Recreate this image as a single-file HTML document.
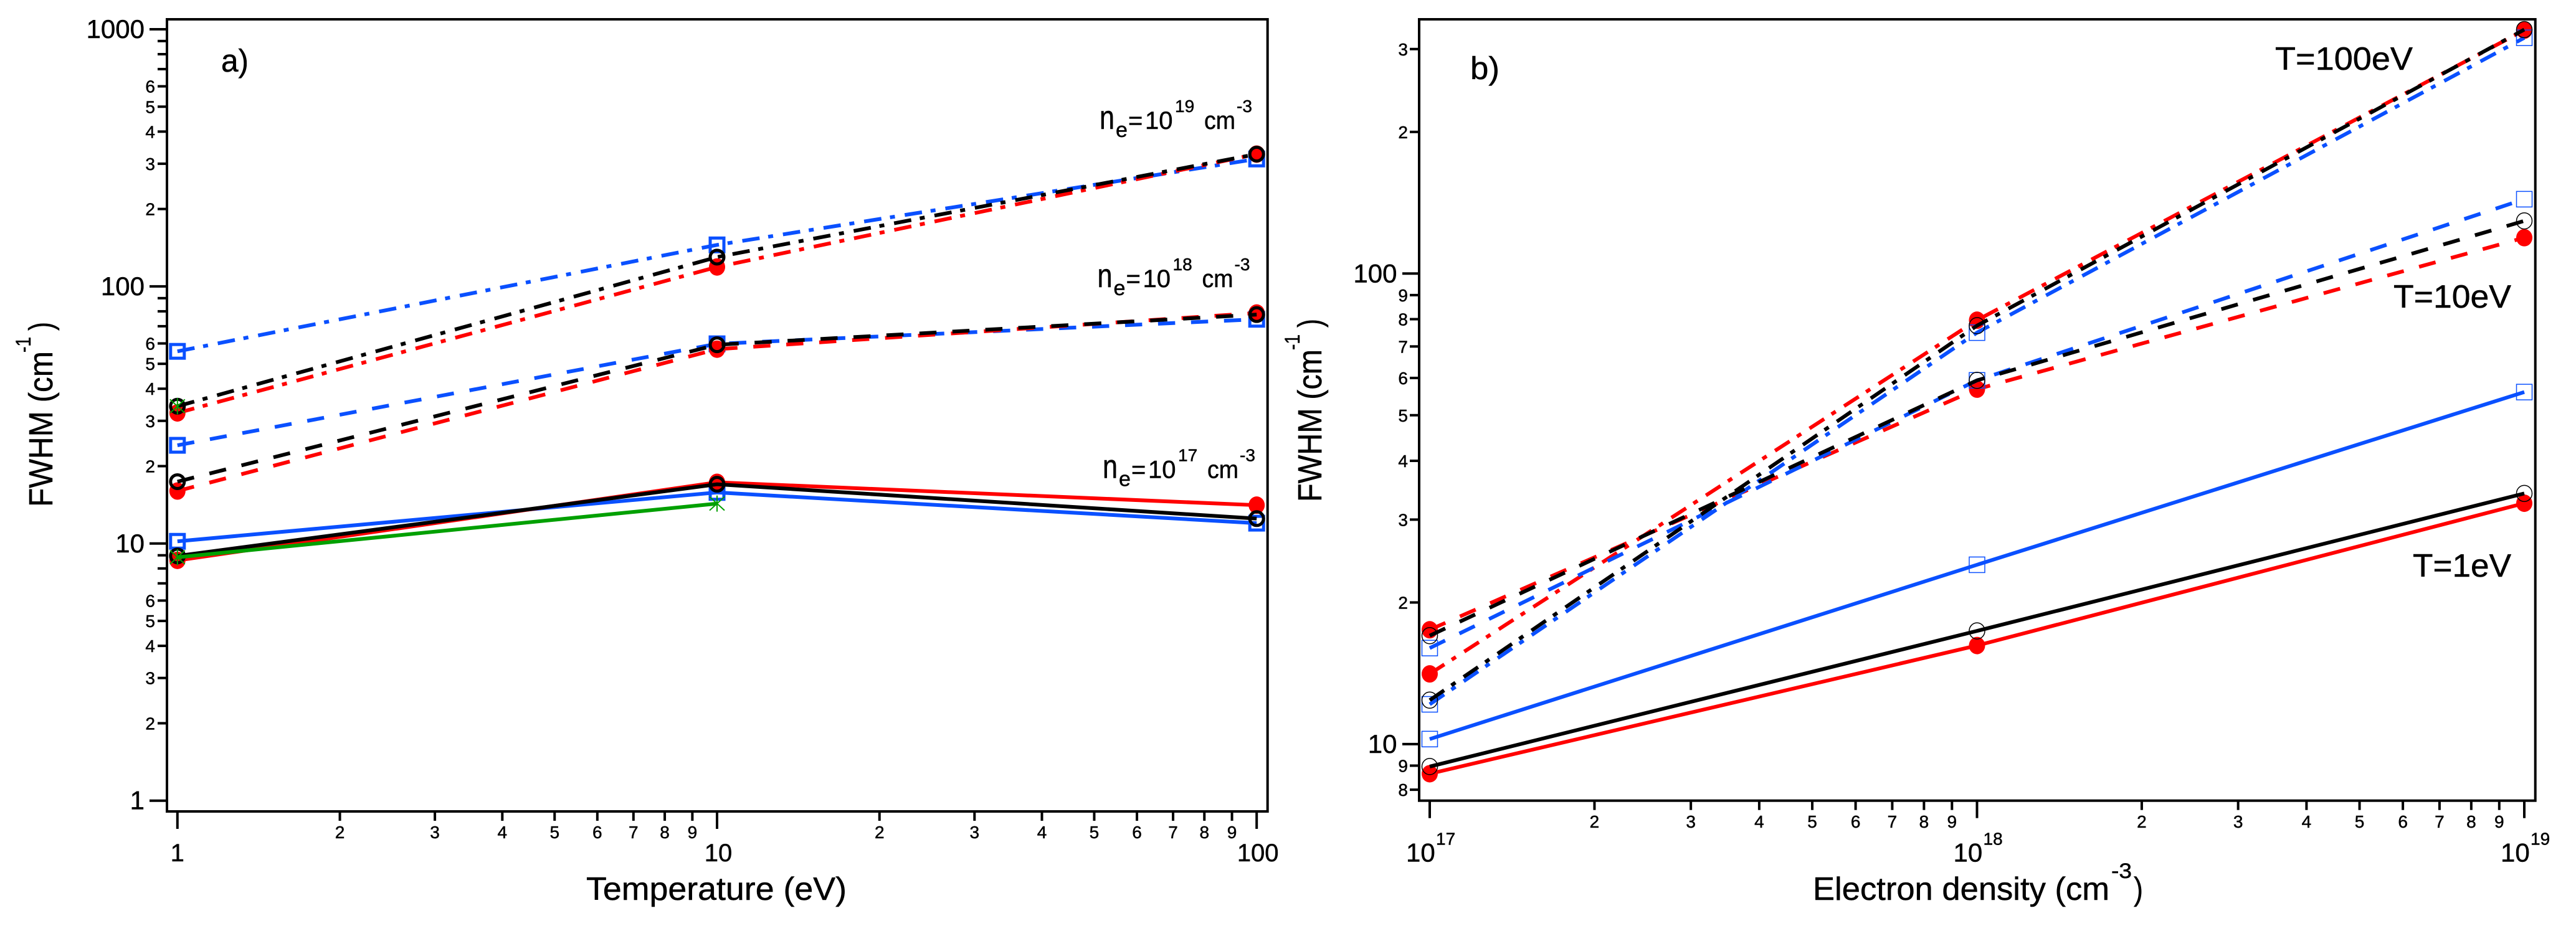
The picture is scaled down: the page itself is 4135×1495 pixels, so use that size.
<!DOCTYPE html>
<html lang="en">
<head>
<meta charset="utf-8">
<title>FWHM versus temperature and electron density</title>
<style>
html,body{margin:0;padding:0;background:#fff;}
svg{display:block;}
text{font-family:"Liberation Sans",sans-serif;fill:#000;stroke:#000;stroke-width:0.5px;}
</style>
</head>
<body>
<svg id="figure" xmlns="http://www.w3.org/2000/svg" width="4135" height="1495" viewBox="0 0 4135 1495">
  <rect x="0" y="0" width="4135" height="1495" fill="#fff"/>

  <g id="panel-a"></g>
  <g id="panel-b"></g>

  <rect x="268" y="31" width="1766.7" height="1272" fill="none" stroke="#000" stroke-width="4"/>
  <rect x="2278" y="31" width="1791.7" height="1254.7" fill="none" stroke="#000" stroke-width="4"/>

  <!-- Panel a text -->
  <text x="355" y="115" font-size="51" textLength="44" lengthAdjust="spacingAndGlyphs">a)</text>
  <text x="941" y="1445" font-size="52" textLength="418" lengthAdjust="spacingAndGlyphs">Temperature (eV)</text>
  <g>
    <text transform="translate(84 814) rotate(-90)" font-size="54" textLength="250" lengthAdjust="spacingAndGlyphs">FWHM (cm</text>
    <text transform="translate(49 566) rotate(-90)" font-size="34" textLength="25" lengthAdjust="spacingAndGlyphs">-1</text>
    <text transform="translate(84 531) rotate(-90)" font-size="54" textLength="14" lengthAdjust="spacingAndGlyphs">)</text>
  </g>

  <g>
    <text x="1765" y="207" font-size="54" textLength="24" lengthAdjust="spacingAndGlyphs">n</text>
    <text x="1791" y="220" font-size="34">e</text>
    <text x="1811" y="207" font-size="40">=</text>
    <text x="1838" y="207" font-size="40">10</text>
    <text x="1886" y="180" font-size="28">19</text>
    <text x="1933" y="207" font-size="40" textLength="50" lengthAdjust="spacingAndGlyphs">cm</text>
    <text x="1985" y="180" font-size="28">-3</text>
  </g>
  <g transform="translate(-3.5 254)">
    <text x="1765" y="207" font-size="54" textLength="24" lengthAdjust="spacingAndGlyphs">n</text>
    <text x="1791" y="220" font-size="34">e</text>
    <text x="1811" y="207" font-size="40">=</text>
    <text x="1838" y="207" font-size="40">10</text>
    <text x="1886" y="180" font-size="28">18</text>
    <text x="1933" y="207" font-size="40" textLength="50" lengthAdjust="spacingAndGlyphs">cm</text>
    <text x="1985" y="180" font-size="28">-3</text>
  </g>
  <g transform="translate(5 560.5)">
    <text x="1765" y="207" font-size="54" textLength="24" lengthAdjust="spacingAndGlyphs">n</text>
    <text x="1791" y="220" font-size="34">e</text>
    <text x="1811" y="207" font-size="40">=</text>
    <text x="1838" y="207" font-size="40">10</text>
    <text x="1886" y="180" font-size="28">17</text>
    <text x="1933" y="207" font-size="40" textLength="50" lengthAdjust="spacingAndGlyphs">cm</text>
    <text x="1985" y="180" font-size="28">-3</text>
  </g>

  <!-- Panel b text -->
  <text x="2360" y="127" font-size="51" textLength="47" lengthAdjust="spacingAndGlyphs">b)</text>
  <g>
    <text x="2910" y="1445" font-size="52" textLength="476" lengthAdjust="spacingAndGlyphs">Electron density (cm</text>
    <text x="3389" y="1410" font-size="34" textLength="33" lengthAdjust="spacingAndGlyphs">-3</text>
    <text x="3425" y="1445" font-size="52" textLength="15" lengthAdjust="spacingAndGlyphs">)</text>
  </g>
  <g>
    <text transform="translate(2121 806) rotate(-90)" font-size="54" textLength="245" lengthAdjust="spacingAndGlyphs">FWHM (cm</text>
    <text transform="translate(2086 562) rotate(-90)" font-size="34" textLength="25" lengthAdjust="spacingAndGlyphs">-1</text>
    <text transform="translate(2121 526) rotate(-90)" font-size="54" textLength="14" lengthAdjust="spacingAndGlyphs">)</text>
  </g>
  <text x="3652" y="112" font-size="52" textLength="221" lengthAdjust="spacingAndGlyphs">T=100eV</text>
  <text x="3842" y="494" font-size="52" textLength="189" lengthAdjust="spacingAndGlyphs">T=10eV</text>
  <text x="3873" y="926" font-size="52" textLength="158" lengthAdjust="spacingAndGlyphs">T=1eV</text>
</svg>

<script>
// ---- Shared tick data ----
const minorDigits = [2, 3, 4, 5, 6, 7, 8, 9];

// ---- Panel a: FWHM vs temperature ----
const tempValues = [1, 10, 100];
const aXMajorTicks = [1, 10, 100];
const aXMajorLabels = ['1', '10', '100'];
const aYMajorTicks = [1, 10, 100, 1000];
const aYMajorLabels = ['1', '10', '100', '1000'];
const aYDecades = [1, 10, 100];
const aYLabelledDigits = [2, 3, 4, 5, 6];

const aBlue19 = [55.9, 145, 313];
const aRed19 = [32.2, 119, 327];
const aBlack19 = [34.2, 130, 327];
const aBlue18 = [24.1, 59.8, 74.5];
const aRed18 = [16.0, 57, 78.8];
const aBlack18 = [17.4, 59.3, 77.7];
const aBlue17 = [10.2, 15.8, 12.0];
const aRed17 = [8.6, 17.3, 14.1];
const aBlack17 = [8.95, 17.0, 12.5];
const aGreenTemps = [1, 10];
const aGreen17 = [8.84, 14.3];
const aGreenExtraTemps = [1];
const aGreenExtra19 = [34.2];

// ---- Panel b: FWHM vs electron density ----
const densityValues = [1e17, 1e18, 1e19];
const bXDecades = [1e17, 1e18];
const bXMajorTicks = [1e17, 1e18, 1e19];
const bXMajorExponents = ['17', '18', '19'];
const bYMajorTicks = [10, 100];
const bYMajorLabels = ['10', '100'];
const bYMinorTicks = [8, 9, 20, 30, 40, 50, 60, 70, 80, 90, 200, 300];
const bYMinorLabels = ['8', '9', '2', '3', '4', '5', '6', '7', '8', '9', '2', '3'];

const bBlue1 = [10.25, 24.05, 56];
const bRed1 = [8.65, 16.2, 32.5];
const bBlack1 = [8.96, 17.4, 34.1];
const bBlue10 = [16.0, 59.3, 143.9];
const bRed10 = [17.5, 56.8, 119.2];
const bBlack10 = [17.0, 59.3, 129.4];
const bBlue100 = [12.15, 74.9, 317];
const bRed100 = [14.1, 79.6, 329];
const bBlack100 = [12.4, 77.5, 330];

// ---- Axis functions ----
function aX(v) { return 284.8 + 866.2 * Math.log10(v); }
function aY(v) { return 1285.7 - 412.9 * Math.log10(v); }
function bX(v) { return 2295 + 878.5 * (Math.log10(v) - 17); }
function bY(v) { return 1194.9 - 755.6 * (Math.log10(v) - 1); }

// ---- Styles ----
const BLUE = '#0a50ff';
const RED = '#ff0000';
const BLACK = '#000000';
const GREEN = '#00a000';
const DASH = '27.5 25.5';
const DASHDOT = '28 14 8 16';
const LINE_WIDTH = 6;

const NS = 'http://www.w3.org/2000/svg';

function make(parent, tag, props) {
  const node = document.createElementNS(NS, tag);
  for (const key in props) node.setAttribute(key, props[key]);
  parent.appendChild(node);
  return node;
}

function tickX(parent, x, y0, len, width, name) {
  const el = make(parent, 'line', { x1: x, x2: x, y1: y0, y2: y0 + len, stroke: '#000', 'stroke-width': width });
  
  
}

function tickY(parent, y, x0, len, width, name) {
  const el = make(parent, 'line', { x1: x0 - len, x2: x0, y1: y, y2: y, stroke: '#000', 'stroke-width': width });
  
  
}

function label(parent, x, y, size, anchor, str, name) {
  const el = make(parent, 'text', { x: x, y: y, 'font-size': size, 'text-anchor': anchor });
  el.textContent = str;
  
  
}

function seriesLine(parent, xs, ys, xFn, yFn, color, dash, width, name) {
  const pts = xs.map(function (x, i) { return xFn(x).toFixed(2) + ',' + yFn(ys[i]).toFixed(2); }).join(' ');
  const el = make(parent, 'polyline', { points: pts, fill: 'none', stroke: color, 'stroke-width': width, 'stroke-linejoin': 'miter' });
  if (dash) el.setAttribute('stroke-dasharray', dash);
  
  
}

function markerCircleOpen(parent, x, y, rx, ry, width, color, name) {
  const el = make(parent, 'ellipse', { cx: x, cy: y, rx: rx, ry: ry, fill: 'none', stroke: color, 'stroke-width': width });
  
  
}

function markerCircleFilled(parent, x, y, rx, ry, color, name) {
  const el = make(parent, 'ellipse', { cx: x, cy: y, rx: rx, ry: ry, fill: color });
  
  
}

function markerSquare(parent, x, y, half, width, color, name) {
  const el = make(parent, 'rect', { x: x - half, y: y - half, width: 2 * half, height: 2 * half, fill: 'none', stroke: color, 'stroke-width': width });
  
  
}

function markerAsterisk(parent, x, y, name) {
  const el = make(parent, 'path', {
    d: 'M' + x + ' ' + (y - 13) + 'V' + (y + 13) +
       'M' + (x - 12) + ' ' + (y - 11) + 'L' + (x + 12) + ' ' + (y + 11) +
       'M' + (x - 12) + ' ' + (y + 11) + 'L' + (x + 12) + ' ' + (y - 11),
    fill: 'none', stroke: GREEN, 'stroke-width': 2
  });
  
  
}

// ---- Panel a drawing ----
const gA = document.getElementById('panel-a');

aXMajorTicks.forEach(function (v, i) {
  tickX(gA, aX(v), 1303, 28, 4, 'a-x-major-tick');
  label(gA, aX(v) + (i === 0 ? 0 : i === 1 ? 2 : 2), 1383, 40, 'middle', aXMajorLabels[i], 'a-x-major-label');
});
[1, 10].forEach(function (decade) {
  minorDigits.forEach(function (d) {
    tickX(gA, aX(decade * d), 1303, 15, 4, 'a-x-minor-tick');
    label(gA, aX(decade * d), 1346, 28, 'middle', String(d), 'a-x-minor-label');
  });
});
aYMajorTicks.forEach(function (v, i) {
  tickY(gA, aY(v), 268, 28, 4, 'a-y-major-tick');
  label(gA, 232, aY(v) + 14, 42, 'end', aYMajorLabels[i], 'a-y-major-label');
});
aYDecades.forEach(function (decade) {
  minorDigits.forEach(function (d) {
    tickY(gA, aY(decade * d), 268, 15, 4, 'a-y-minor-tick');
    if (aYLabelledDigits.indexOf(d) >= 0) {
      label(gA, 249, aY(decade * d) + 10, 28, 'end', String(d), 'a-y-minor-label');
    }
  });
});

const aSeries = [
  { vals: aBlue19, kind: 'square', color: BLUE, dash: DASHDOT, name: 'a-blue-ne-1e19' },
  { vals: aRed19, kind: 'filled', color: RED, dash: DASHDOT, name: 'a-red-ne-1e19' },
  { vals: aBlack19, kind: 'open', color: BLACK, dash: DASHDOT, name: 'a-black-ne-1e19' },
  { vals: aBlue18, kind: 'square', color: BLUE, dash: DASH, name: 'a-blue-ne-1e18' },
  { vals: aRed18, kind: 'filled', color: RED, dash: DASH, name: 'a-red-ne-1e18' },
  { vals: aBlack18, kind: 'open', color: BLACK, dash: DASH, name: 'a-black-ne-1e18' },
  { vals: aBlue17, kind: 'square', color: BLUE, dash: null, name: 'a-blue-ne-1e17' },
  { vals: aRed17, kind: 'filled', color: RED, dash: null, name: 'a-red-ne-1e17' },
  { vals: aBlack17, kind: 'open', color: BLACK, dash: null, name: 'a-black-ne-1e17' }
];

aSeries.forEach(function (s) {
  seriesLine(gA, tempValues, s.vals, aX, aY, s.color, s.dash, LINE_WIDTH, s.name + '-line');
  tempValues.forEach(function (t, i) {
    const x = aX(t), y = aY(s.vals[i]);
    if (s.kind === 'square') markerSquare(gA, x, y, 11, 5, s.color, s.name + '-marker');
    if (s.kind === 'filled') markerCircleFilled(gA, x, y, 13, 14, s.color, s.name + '-marker');
    if (s.kind === 'open') markerCircleOpen(gA, x, y, 11, 11, 5, s.color, s.name + '-marker');
  });
});

seriesLine(gA, aGreenTemps, aGreen17, aX, aY, GREEN, null, LINE_WIDTH, 'a-green-ne-1e17-line');
aGreenTemps.forEach(function (t, i) {
  markerAsterisk(gA, aX(t), aY(aGreen17[i]), 'a-green-ne-1e17-marker');
});
aGreenExtraTemps.forEach(function (t, i) {
  markerAsterisk(gA, aX(t), aY(aGreenExtra19[i]), 'a-green-ne-1e19-marker');
});

// ---- Panel b drawing ----
const gB = document.getElementById('panel-b');

bXMajorTicks.forEach(function (v, i) {
  tickX(gB, bX(v), 1285.7, 28, 4, 'b-x-major-tick');
  label(gB, bX(v) - 38, 1383.5, 42, 'start', '10', 'b-x-major-label');
  label(gB, bX(v) + 10, 1356.5, 28, 'start', bXMajorExponents[i], 'b-x-major-exponent');
});
bXDecades.forEach(function (decade) {
  minorDigits.forEach(function (d) {
    tickX(gB, bX(decade * d), 1285.7, 15, 4, 'b-x-minor-tick');
    label(gB, bX(decade * d), 1329, 28, 'middle', String(d), 'b-x-minor-label');
  });
});
bYMajorTicks.forEach(function (v, i) {
  tickY(gB, bY(v), 2278, 27, 4, 'b-y-major-tick');
  label(gB, 2242.5, bY(v) + 14, 42, 'end', bYMajorLabels[i], 'b-y-major-label');
});
bYMinorTicks.forEach(function (v, i) {
  tickY(gB, bY(v), 2278, 15, 4, 'b-y-minor-tick');
  label(gB, 2260, bY(v) + 10, 28, 'end', bYMinorLabels[i], 'b-y-minor-label');
});

const bSeries = [
  { vals: bRed1, kind: 'filled', color: RED, dash: null, name: 'b-red-t-1ev' },
  { vals: bRed10, kind: 'filled', color: RED, dash: DASH, name: 'b-red-t-10ev' },
  { vals: bRed100, kind: 'filled', color: RED, dash: DASHDOT, name: 'b-red-t-100ev' },
  { vals: bBlue1, kind: 'square', color: BLUE, dash: null, name: 'b-blue-t-1ev' },
  { vals: bBlue10, kind: 'square', color: BLUE, dash: DASH, name: 'b-blue-t-10ev' },
  { vals: bBlue100, kind: 'square', color: BLUE, dash: DASHDOT, name: 'b-blue-t-100ev' },
  { vals: bBlack1, kind: 'open', color: BLACK, dash: null, name: 'b-black-t-1ev' },
  { vals: bBlack10, kind: 'open', color: BLACK, dash: DASH, name: 'b-black-t-10ev' },
  { vals: bBlack100, kind: 'open', color: BLACK, dash: DASHDOT, name: 'b-black-t-100ev' }
];

bSeries.forEach(function (s) {
  densityValues.forEach(function (n, i) {
    const x = bX(n), y = bY(s.vals[i]);
    if (s.kind === 'square') markerSquare(gB, x, y, 12.5, 1.5, s.color, s.name + '-marker');
    if (s.kind === 'filled') markerCircleFilled(gB, x, y, 13, 14, s.color, s.name + '-marker');
    if (s.kind === 'open') markerCircleOpen(gB, x, y, 12.5, 13, 1.5, s.color, s.name + '-marker');
  });
  seriesLine(gB, densityValues, s.vals, bX, bY, s.color, s.dash, LINE_WIDTH, s.name + '-line');
});
</script>
</body>
</html>
